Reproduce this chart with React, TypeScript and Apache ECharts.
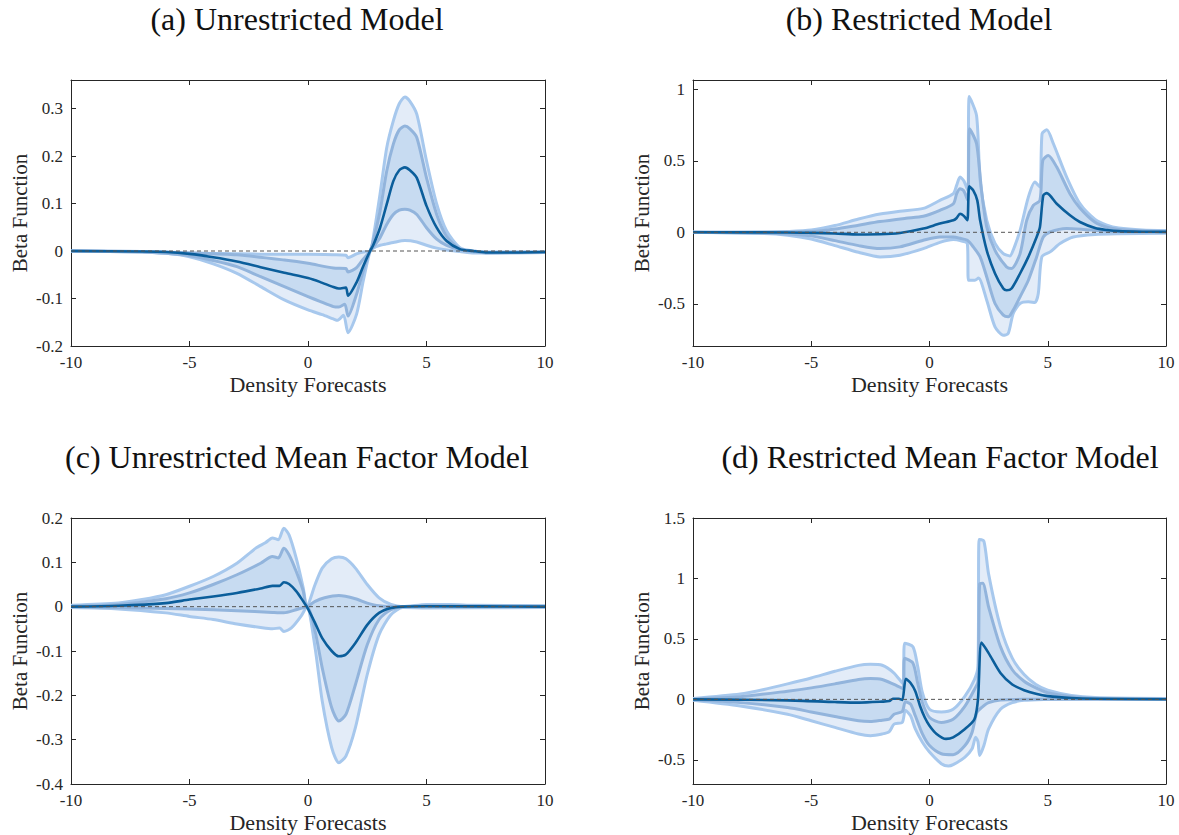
import React, { useEffect, useRef } from 'react';
import * as echarts from 'echarts';

// ---------- text ----------
const titles = [
  '(a) Unrestricted Model',
  '(b) Restricted Model',
  '(c) Unrestricted Mean Factor Model',
  '(d) Restricted Mean Factor Model',
];
const xName = 'Density Forecasts';
const yName = 'Beta Function';

// ---------- ticks ----------
const xTicks = [-10, -5, 0, 5, 10];
const aYTicks = [-0.2, -0.1, 0, 0.1, 0.2, 0.3];
const bYTicks = [-0.5, 0, 0.5, 1];
const cYTicks = [-0.4, -0.3, -0.2, -0.1, 0, 0.1, 0.2];
const dYTicks = [-0.5, 0, 0.5, 1, 1.5];
const aYRange = [-0.2, 0.36];
const bYRange = [-0.795, 1.065];
const cYRange = [-0.4, 0.2];
const dYRange = [-0.7, 1.5];

// ---------- (a) Unrestricted Model ----------
const aOutHi = [[-10,0],[-7,-0.001],[-5,-0.004],[-3,-0.006],[-1,-0.007],[0,-0.007],[1.07,-0.008],[1.6,-0.009],[1.69,-0.014],[2.05,-0.006],[2.33,-0.002],[2.62,0],[2.75,0.027],[3.04,0.12],[3.32,0.217],[3.6,0.274],[3.85,0.31],[4.09,0.324],[4.3,0.315],[4.59,0.288],[5.0,0.19],[5.43,0.099],[5.85,0.042],[6.41,0.007],[6.96,0],[7.5,-0.002],[10,-0.002]];
const aInHi = [[-10,0],[-7,-0.001],[-5,-0.004],[-3,-0.008],[-1,-0.019],[0,-0.026],[1.07,-0.036],[1.6,-0.037],[1.69,-0.044],[2.05,-0.035],[2.33,-0.017],[2.62,0],[2.75,0.021],[3.04,0.084],[3.32,0.168],[3.6,0.225],[3.85,0.255],[4.09,0.263],[4.3,0.257],[4.59,0.239],[5.0,0.154],[5.43,0.077],[5.85,0.031],[6.41,0.004],[6.96,0],[7.5,-0.003],[10,-0.002]];
const aMed = [[-10,0],[-7,-0.001],[-6,-0.002],[-5,-0.006],[-4,-0.013],[-3,-0.022],[-2,-0.034],[-1,-0.046],[0,-0.057],[0.5,-0.065],[1.07,-0.076],[1.3,-0.079],[1.6,-0.077],[1.69,-0.094],[2.05,-0.066],[2.33,-0.032],[2.62,0],[2.75,0.012],[3.04,0.049],[3.32,0.098],[3.6,0.147],[3.85,0.17],[4.09,0.176],[4.3,0.17],[4.59,0.154],[5.0,0.095],[5.43,0.049],[5.85,0.021],[6.41,0.004],[6.96,0],[7.5,-0.003],[8.5,-0.003],[10,-0.002]];
const aInLo = [[-10,0],[-7,-0.002],[-6,-0.005],[-5,-0.01],[-4,-0.02],[-3,-0.033],[-2,-0.054],[-1,-0.075],[0,-0.096],[0.5,-0.106],[1.07,-0.117],[1.3,-0.118],[1.55,-0.112],[1.69,-0.137],[2.05,-0.091],[2.33,-0.042],[2.62,0],[2.75,0.008],[3.04,0.028],[3.32,0.056],[3.6,0.077],[3.85,0.086],[4.09,0.088],[4.3,0.086],[4.59,0.077],[5.0,0.049],[5.43,0.025],[5.85,0.012],[6.41,0.003],[6.96,-0.001],[7.5,-0.004],[10,-0.003]];
const aOutLo = [[-10,0],[-7,-0.002],[-6,-0.005],[-5,-0.012],[-4,-0.027],[-3,-0.047],[-2,-0.075],[-1,-0.103],[0,-0.124],[0.6,-0.134],[1.07,-0.143],[1.25,-0.146],[1.5,-0.135],[1.69,-0.172],[2.05,-0.133],[2.33,-0.063],[2.62,0],[2.75,0.006],[3.04,0.012],[3.32,0.015],[3.6,0.018],[4.09,0.022],[4.59,0.019],[5.0,0.012],[5.43,0.006],[5.85,0.002],[6.41,-0.001],[7,-0.004],[8,-0.004],[10,-0.003]];

// ---------- (b) Restricted Model ----------
const bOutHi = [[-10,0],[-7,0.002],[-6,0.006],[-5,0.016],[-4,0.047],[-3,0.093],[-2.09,0.128],[-1.25,0.148],[-0.26,0.167],[0.44,0.223],[1.01,0.27],[1.15,0.33],[1.29,0.386],[1.45,0.36],[1.62,0.293],[1.68,0.949],[1.99,0.816],[2.14,0.363],[2.42,0.084],[2.77,-0.077],[3.12,-0.149],[3.4,-0.165],[3.55,-0.12],[3.83,0.014],[4.18,0.246],[4.46,0.351],[4.67,0.316],[4.76,0.689],[4.96,0.717],[5.24,0.619],[5.8,0.386],[6.36,0.2],[7,0.09],[7.5,0.05],[8,0.03],[9,0.016],[10,0.012]];
const bInHi = [[-10,0],[-7,0.001],[-5,0.006],[-4,0.023],[-3,0.05],[-2.09,0.075],[-1,0.098],[-0.26,0.112],[0.44,0.154],[1.01,0.2],[1.15,0.27],[1.29,0.305],[1.45,0.29],[1.62,0.223],[1.7,0.724],[1.99,0.619],[2.2,0.293],[2.42,0.037],[2.77,-0.126],[3.26,-0.242],[3.47,-0.253],[3.83,-0.149],[4.11,0.084],[4.39,0.188],[4.67,0.223],[4.79,0.502],[5.02,0.537],[5.38,0.456],[5.94,0.27],[6.36,0.17],[7,0.07],[7.5,0.035],[8,0.02],[10,0.006]];
const bMed = [[-10,0],[-6,-0.001],[-5,-0.004],[-4,-0.008],[-3,-0.015],[-2.09,-0.014],[-1.25,-0.005],[-0.26,0.026],[0.44,0.061],[1.01,0.084],[1.15,0.1],[1.29,0.13],[1.45,0.115],[1.6,0.084],[1.68,0.321],[1.85,0.293],[2.02,0.223],[2.14,0.084],[2.42,-0.126],[2.77,-0.288],[3.12,-0.393],[3.26,-0.405],[3.47,-0.393],[3.83,-0.288],[4.18,-0.172],[4.53,-0.033],[4.67,0.037],[4.81,0.258],[4.96,0.274],[5.38,0.2],[5.94,0.119],[6.36,0.072],[7,0.03],[7.5,0.016],[8,0.008],[9,0.004],[10,0.003]];
const bInLo = [[-10,0],[-7,-0.006],[-6,-0.012],[-5,-0.025],[-4,-0.058],[-3,-0.093],[-2.09,-0.114],[-1.25,-0.102],[-0.26,-0.056],[0.44,-0.033],[1.01,-0.033],[1.3,-0.042],[1.6,-0.056],[1.85,-0.102],[2.14,-0.172],[2.42,-0.312],[2.77,-0.498],[3.12,-0.579],[3.33,-0.591],[3.54,-0.544],[3.83,-0.451],[4.18,-0.335],[4.53,-0.172],[4.81,-0.033],[5.1,0.002],[5.8,0.026],[6.5,0.02],[7.5,0.008],[10,0.002]];
const bOutLo = [[-10,0],[-7,-0.008],[-6,-0.02],[-5,-0.047],[-4,-0.093],[-3,-0.14],[-2.09,-0.172],[-1.25,-0.16],[-0.26,-0.114],[0.44,-0.07],[1.01,-0.051],[1.3,-0.058],[1.6,-0.079],[1.65,-0.335],[1.92,-0.335],[2.07,-0.32],[2.42,-0.475],[2.77,-0.661],[3.12,-0.719],[3.33,-0.707],[3.54,-0.567],[3.83,-0.498],[4.18,-0.486],[4.46,-0.49],[4.6,-0.428],[4.75,-0.172],[5.1,-0.137],[5.52,-0.079],[6.08,-0.033],[7,-0.015],[8,-0.01],[10,-0.006]];

// ---------- (c) Unrestricted Mean Factor Model ----------
const cOutHi = [[-10,0.003],[-8,0.008],[-7,0.016],[-6,0.027],[-5,0.046],[-4,0.068],[-3,0.098],[-2.2,0.132],[-1.8,0.144],[-1.5,0.155],[-1.25,0.151],[-1.02,0.177],[-0.8,0.162],[-0.5,0.11],[-0.2,0.042],[-0.05,0],[0.3,0.05],[0.6,0.087],[1.0,0.108],[1.3,0.112],[1.6,0.108],[2.0,0.087],[2.5,0.05],[3.0,0.02],[3.5,0.005],[4.0,0],[5,0.005],[6,0.005],[7,0.003],[10,0.002]];
const cInHi = [[-10,0.001],[-8,0.005],[-6,0.018],[-5,0.031],[-4,0.05],[-3,0.072],[-2,0.098],[-1.5,0.113],[-1.25,0.11],[-1.02,0.132],[-0.8,0.117],[-0.5,0.08],[-0.2,0.035],[-0.05,0],[0.3,0.012],[0.7,0.02],[1.3,0.025],[2,0.018],[2.5,0.008],[3,0.002],[4,0],[5,0.002],[10,0.001]];
const cMed = [[-10,0],[-8,0.002],[-6,0.008],[-5,0.016],[-4,0.023],[-3,0.031],[-2,0.041],[-1.5,0.047],[-1.2,0.047],[-1.02,0.055],[-0.8,0.051],[-0.5,0.035],[-0.2,0.012],[-0.05,0],[0.3,-0.037],[0.6,-0.071],[1.0,-0.1],[1.3,-0.112],[1.6,-0.108],[2.0,-0.082],[2.5,-0.041],[3.0,-0.014],[3.5,-0.003],[4.0,0],[5,0.001],[10,0]];
const cInLo = [[-10,0],[-8,-0.002],[-5,-0.005],[-3,-0.009],[-1.5,-0.013],[-1.02,-0.014],[-0.5,-0.007],[-0.05,0],[0.3,-0.056],[0.6,-0.138],[1.0,-0.228],[1.3,-0.258],[1.6,-0.243],[2.0,-0.176],[2.5,-0.086],[3.0,-0.029],[3.5,-0.007],[4,0],[5,0],[10,0]];
const cOutLo = [[-10,-0.002],[-8,-0.005],[-6,-0.014],[-5,-0.022],[-4,-0.029],[-3,-0.039],[-2,-0.047],[-1.5,-0.05],[-1.2,-0.048],[-1.02,-0.056],[-0.7,-0.048],[-0.3,-0.022],[-0.05,0],[0.3,-0.093],[0.6,-0.213],[1.0,-0.318],[1.3,-0.352],[1.6,-0.337],[2.0,-0.273],[2.5,-0.153],[3.0,-0.063],[3.5,-0.018],[4.0,-0.002],[5,-0.003],[10,-0.002]];

// ---------- (d) Restricted Mean Factor Model ----------
const dOutHi = [[-10,0.008],[-8,0.045],[-7,0.082],[-6,0.128],[-5,0.177],[-4,0.232],[-3,0.281],[-2.5,0.29],[-2,0.282],[-1.5,0.218],[-1.12,0.13],[-1.05,0.464],[-0.7,0.436],[-0.5,0.273],[-0.3,0.055],[0,-0.082],[0.5,-0.104],[1.0,-0.082],[1.5,0.027],[1.9,0.164],[2.05,0.273],[2.1,1.323],[2.3,1.309],[2.5,1.036],[3.0,0.6],[3.5,0.341],[4,0.205],[4.5,0.123],[5,0.076],[6,0.033],[7,0.016],[10,0.008]];
const dInHi = [[-10,0.004],[-8,0.022],[-6,0.068],[-5,0.095],[-4,0.128],[-3,0.164],[-2.5,0.172],[-2,0.164],[-1.5,0.123],[-1.12,0.09],[-1.05,0.341],[-0.7,0.3],[-0.5,0.136],[-0.3,-0.027],[0,-0.15],[0.5,-0.191],[1.0,-0.164],[1.5,-0.055],[1.9,0.082],[2.05,0.15],[2.12,0.955],[2.25,0.96],[2.5,0.764],[3.0,0.436],[3.5,0.245],[4,0.15],[4.5,0.095],[5,0.055],[6,0.022],[7,0.008],[10,0.003]];
const dMed = [[-10,0],[-6,-0.008],[-4,-0.022],[-3,-0.027],[-2,-0.019],[-1.7,-0.014],[-1.55,0.005],[-1.3,0.005],[-1.15,-0.005],[-1.0,0.17],[-0.8,0.136],[-0.6,0.068],[-0.4,-0.055],[-0.2,-0.15],[0,-0.218],[0.3,-0.286],[0.7,-0.327],[1.0,-0.314],[1.5,-0.245],[1.9,-0.164],[2.05,0],[2.2,0.469],[2.5,0.382],[3.0,0.218],[3.5,0.123],[4,0.076],[4.5,0.046],[5,0.027],[6,0.011],[7,0.005],[10,0.001]];
const dInLo = [[-10,-0.004],[-8,-0.027],[-6,-0.068],[-5,-0.104],[-4,-0.142],[-3,-0.177],[-2.5,-0.183],[-2,-0.172],[-1.7,-0.164],[-1.5,-0.123],[-1.15,-0.1],[-1.02,-0.02],[-0.8,-0.04],[-0.6,-0.136],[-0.3,-0.286],[0,-0.382],[0.5,-0.45],[1.0,-0.458],[1.5,-0.382],[1.8,-0.273],[2.0,-0.109],[2.2,-0.068],[2.5,-0.027],[3.0,-0.005],[4,0],[10,0]];
const dOutLo = [[-10,-0.008],[-8,-0.055],[-6,-0.123],[-5,-0.177],[-4,-0.232],[-3,-0.286],[-2.5,-0.3],[-2,-0.286],[-1.7,-0.267],[-1.5,-0.205],[-1.15,-0.19],[-1.02,-0.09],[-0.8,-0.136],[-0.6,-0.245],[-0.3,-0.355],[0,-0.436],[0.5,-0.532],[0.8,-0.551],[1.0,-0.54],[1.5,-0.477],[1.8,-0.409],[1.95,-0.314],[2.05,-0.35],[2.12,-0.464],[2.3,-0.382],[2.5,-0.245],[3.0,-0.082],[3.5,-0.027],[4,-0.008],[5,0],[6,0.004],[10,0.003]];

const zeroLine = [[-10, 0], [10, 0]];

// ---------- styling / layout ----------
const C_OUT_FILL = '#e3ecf8';
const C_IN_FILL = '#c7dbf1';
const C_OUT_LINE = '#a7c8ed';
const C_IN_LINE = '#92b4dc';
const C_MED = '#0b5e9b';
const C_AXIS = '#262626';
const SERIF = 'Liberation Serif';
const SMOOTH = 0.25;

const grids = [
  { left: 71, top: 80, width: 474, height: 266 },
  { left: 693, top: 80, width: 473, height: 266 },
  { left: 71, top: 518, width: 474, height: 266 },
  { left: 693, top: 518, width: 473, height: 266 },
];
const titlePos = [[297, 19], [919, 19], [297, 457], [940, 457]];

const panels = [
  { outHi: aOutHi, inHi: aInHi, med: aMed, inLo: aInLo, outLo: aOutLo, yTicks: aYTicks, yRange: aYRange },
  { outHi: bOutHi, inHi: bInHi, med: bMed, inLo: bInLo, outLo: bOutLo, yTicks: bYTicks, yRange: bYRange },
  { outHi: cOutHi, inHi: cInHi, med: cMed, inLo: cInLo, outLo: cOutLo, yTicks: cYTicks, yRange: cYRange },
  { outHi: dOutHi, inHi: dInHi, med: dMed, inLo: dInLo, outLo: dOutLo, yTicks: dYTicks, yRange: dYRange },
];

function band(k: number, hi: number[][], lo: number[][], color: string) {
  return {
    type: 'custom',
    xAxisIndex: 2 * k,
    yAxisIndex: 2 * k,
    silent: true,
    data: [hi[0]],
    encode: { x: 0, y: 1 },
    renderItem: (params: any, api: any) => {
      if (params.dataIndex !== 0) return null;
      const pts = hi.map((p) => api.coord(p)).concat(lo.slice().reverse().map((p) => api.coord(p)));
      return { type: 'polygon', shape: { points: pts }, style: { fill: color } };
    },
  };
}

function line(k: number, data: number[][], color: string, width: number, dashed = false) {
  return {
    type: 'line',
    xAxisIndex: 2 * k,
    yAxisIndex: 2 * k,
    data,
    symbol: 'none',
    showSymbol: false,
    silent: true,
    smooth: dashed ? false : SMOOTH,
    lineStyle: { color, width, type: dashed ? [4, 3] : 'solid', join: 'round', cap: 'butt' },
  };
}

function buildOption() {
  const xAxis: any[] = [];
  const yAxis: any[] = [];
  const series: any[] = [];
  const graphic: any[] = [];
  const axisLine = { show: true, onZero: false, lineStyle: { color: C_AXIS, width: 1 } };
  const tickBase = { show: true, inside: true, length: 5, lineStyle: { color: C_AXIS, width: 1 } };
  const labelBase = { fontSize: 17, fontFamily: SERIF, color: C_AXIS, margin: 8 };

  panels.forEach((p, k) => {
    ['bottom', 'top'].forEach((pos, j) => {
      xAxis.push({
        gridIndex: k, type: 'value', position: pos, min: -10, max: 10,
        axisLine, splitLine: { show: false },
        axisTick: { ...tickBase, customValues: xTicks },
        axisLabel: j === 0 ? { ...labelBase, customValues: xTicks } : { show: false },
      });
    });
    ['left', 'right'].forEach((pos, j) => {
      yAxis.push({
        gridIndex: k, type: 'value', position: pos, min: p.yRange[0], max: p.yRange[1],
        axisLine, splitLine: { show: false },
        axisTick: { ...tickBase, customValues: p.yTicks },
        axisLabel: j === 0 ? { ...labelBase, customValues: p.yTicks } : { show: false },
      });
    });
    series.push(band(k, p.outHi, p.outLo, C_OUT_FILL));
    series.push(band(k, p.inHi, p.inLo, C_IN_FILL));
    series.push(line(k, p.outHi, C_OUT_LINE, 3));
    series.push(line(k, p.outLo, C_OUT_LINE, 3));
    series.push(line(k, p.inHi, C_IN_LINE, 3));
    series.push(line(k, p.inLo, C_IN_LINE, 3));
    series.push(line(k, p.med, C_MED, 2.6));
    series.push(line(k, zeroLine, '#555555', 1, true));

    const g = grids[k];
    graphic.push({
      type: 'text', x: titlePos[k][0], y: titlePos[k][1],
      style: { text: titles[k], fontSize: 32, fontFamily: SERIF, fill: '#111', textAlign: 'center', textVerticalAlign: 'middle' },
    });
    graphic.push({
      type: 'text', x: g.left + g.width / 2, y: g.top + g.height + 38,
      style: { text: xName, fontSize: 22, fontFamily: SERIF, fill: C_AXIS, textAlign: 'center', textVerticalAlign: 'middle' },
    });
    graphic.push({
      type: 'text', x: g.left - 51, y: g.top + g.height / 2, rotation: Math.PI / 2,
      style: { text: yName, fontSize: 21, fontFamily: SERIF, fill: C_AXIS, textAlign: 'center', textVerticalAlign: 'middle' },
    });
  });

  return {
    animation: false,
    backgroundColor: '#ffffff',
    textStyle: { fontFamily: SERIF },
    grid: grids.map((g) => ({ ...g, show: false, containLabel: false, outerBoundsMode: 'none' })),
    xAxis,
    yAxis,
    series,
    graphic,
  };
}

export default function App() {
  const ref = useRef<HTMLDivElement>(null);
  useEffect(() => {
    if (!ref.current) return;
    const chart = echarts.init(ref.current, null, { renderer: 'svg' });
    chart.setOption(buildOption() as any);
    return () => chart.dispose();
  }, []);
  return (
    <div
      ref={ref}
      style={{ position: 'fixed', left: 0, top: 0, width: 1179, height: 835, background: '#fff' }}
    />
  );
}
